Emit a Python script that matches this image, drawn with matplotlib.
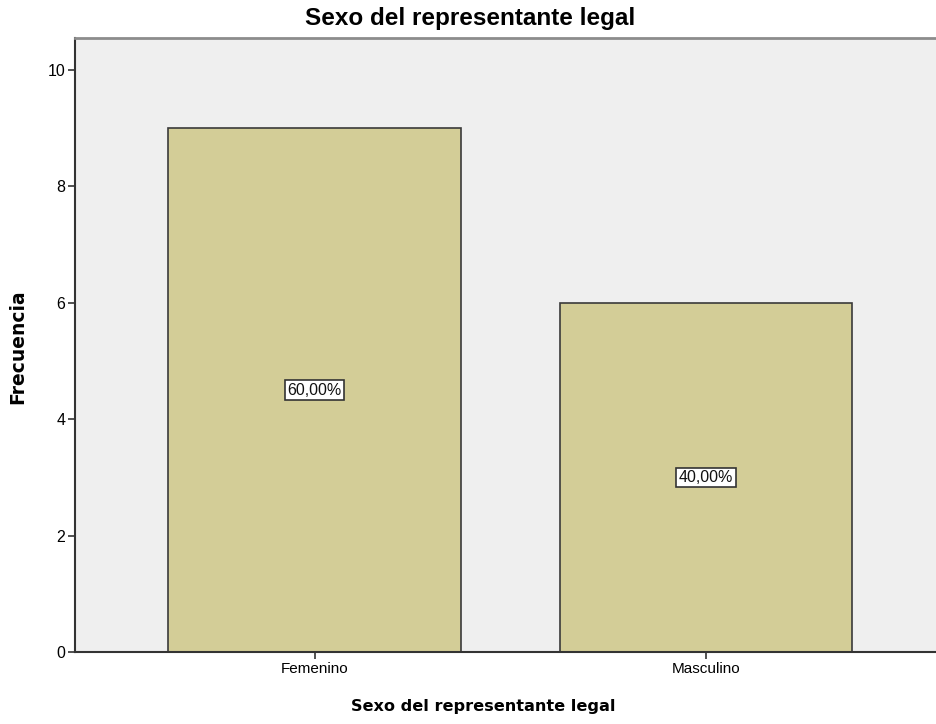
import matplotlib
matplotlib.use('Agg')
import matplotlib.pyplot as plt
import numpy as np

plt.rcParams['font.family'] = ['Liberation Sans', 'DejaVu Sans']

# ── DATOS ──────────────────────────────────────────
categorias = ['Femenino', 'Masculino']
frecuencias = [9, 6]
porcentajes = ['60,00%', '40,00%']
yticks = [0, 2, 4, 6, 8, 10]

W, H = 937, 724
fig = plt.figure(figsize=(W / 100, H / 100), dpi=100)
ax = fig.add_axes([75 / W, 1 - 652 / H, (W - 75) / W, (652 - 38) / H])
ax.set_facecolor('#efefef')

x = np.arange(len(categorias))
ax.bar(x, frecuencias, width=0.748, color='#d3cd97', edgecolor='#3a3a3a', linewidth=1.2, zorder=2)

for xi, f, p in zip(x, frecuencias, porcentajes):
    ax.text(xi, f / 2, p, ha='center', va='center', fontsize=11.5, color='#111111', zorder=3,
            bbox=dict(boxstyle='square,pad=0.15', facecolor='white', edgecolor='#333333', linewidth=1.2))

ax.set_xlim(-0.612, 1.59)
ax.set_ylim(0, 10.55)
ax.set_xticks(x)
ax.set_xticklabels(categorias, fontsize=11)
ax.set_yticks(yticks)
ax.set_yticklabels([str(t) for t in yticks], fontsize=11.5)
ax.tick_params(axis='both', direction='out', length=5, width=1.2, color='#333333', pad=2)

ax.spines['right'].set_visible(False)
ax.spines['top'].set_color('#8c8c8c')
ax.spines['top'].set_linewidth(2)
for s in ['left', 'bottom']:
    ax.spines[s].set_color('#333333')
    ax.spines[s].set_linewidth(1.5)

# títulos (posición en píxeles de la figura)
fig.text(470 / W, 1 - 18 / H, 'Sexo del representante legal', ha='center', va='center',
         fontsize=17.5, fontweight='bold')
fig.text(483 / W, 1 - 707 / H, 'Sexo del representante legal', ha='center', va='center',
         fontsize=11.6, fontweight='bold', family='DejaVu Sans')
fig.text(18 / W, 1 - 347 / H, 'Frecuencia', ha='center', va='center', rotation=90,
         fontsize=13.5, fontweight='bold', family='DejaVu Sans')

plt.savefig('out.png', dpi=100)
plt.close()
